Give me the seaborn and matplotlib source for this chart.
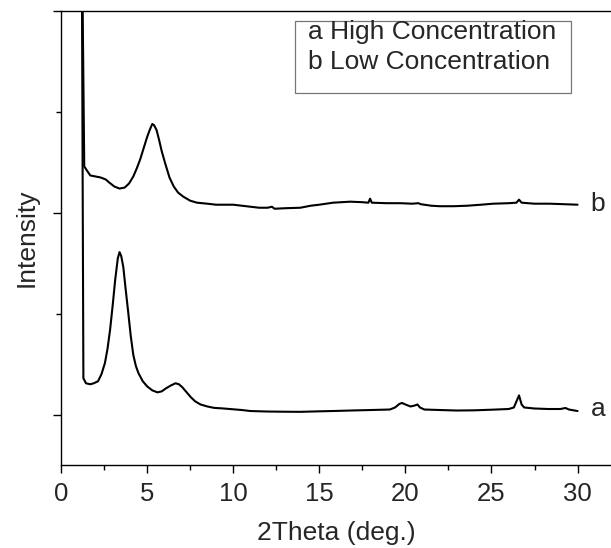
"""
XRD patterns of the two samples (high / low concentration).
Curve b is offset upward by the original figure, values are read off it.
"""

import pandas as pd
import matplotlib.pyplot as plt
import matplotlib.patches as mpatches
from matplotlib.ticker import MultipleLocator
import seaborn as sns

# 📥 Data (2Theta in deg., intensity in tick units)
theta_a = [1.20, 1.30, 1.45, 1.70, 1.90, 2.15, 2.35, 2.55, 2.70, 2.85,
           3.00, 3.15, 3.30, 3.40, 3.50, 3.62, 3.75, 3.90, 4.05, 4.20,
           4.35, 4.50, 4.75, 5.00, 5.30, 5.60, 5.85, 6.10, 6.40, 6.65,
           6.85, 7.05, 7.30, 7.55, 7.80, 8.10, 8.50, 8.90, 9.30, 9.80,
           10.5, 11.0, 12.0, 13.0, 13.9, 15.0, 16.0, 16.8, 18.0, 19.1,
           19.4, 19.65, 19.8, 20.0, 20.3, 20.55, 20.7, 20.85, 21.1, 22.0,
           23.0, 24.0, 25.0, 26.0, 26.3, 26.45, 26.6, 26.75, 26.9, 27.5,
           28.3, 29.0, 29.3, 29.5, 30.0]
intensity_a = [5.00, 0.36, 0.31, 0.30, 0.31, 0.33, 0.40, 0.51, 0.65, 0.84,
               1.08, 1.34, 1.55, 1.61, 1.57, 1.46, 1.25, 1.02, 0.78, 0.59,
               0.48, 0.41, 0.33, 0.28, 0.24, 0.22, 0.23, 0.26, 0.29, 0.31,
               0.30, 0.27, 0.22, 0.17, 0.13, 0.10, 0.08, 0.066, 0.062, 0.055,
               0.045, 0.035, 0.030, 0.028, 0.027, 0.032, 0.036, 0.040, 0.045, 0.050,
               0.070, 0.105, 0.115, 0.100, 0.080, 0.090, 0.100, 0.070, 0.050, 0.045,
               0.040, 0.042, 0.048, 0.055, 0.070, 0.130, 0.190, 0.100, 0.070, 0.060,
               0.055, 0.055, 0.065, 0.050, 0.035]

theta_b = [1.20, 1.35, 1.50, 1.70, 2.00, 2.30, 2.60, 2.80, 3.10, 3.40,
           3.70, 3.95, 4.20, 4.40, 4.60, 4.80, 5.00, 5.15, 5.30, 5.40,
           5.55, 5.70, 5.85, 6.05, 6.30, 6.55, 6.80, 7.10, 7.50, 7.90,
           8.50, 9.00, 9.50, 10.0, 10.5, 11.0, 11.5, 12.0, 12.25, 12.4,
           13.0, 13.9, 14.5, 15.0, 15.8, 16.8, 17.5, 17.85, 17.95, 18.05,
           18.9, 19.7, 20.4, 20.75, 20.9, 21.5, 22.0, 22.8, 23.6, 24.4,
           25.1, 26.0, 26.45, 26.6, 26.75, 27.5, 28.4, 29.2, 30.0]
intensity_b = [5.00, 2.46, 2.42, 2.37, 2.36, 2.35, 2.33, 2.30, 2.26, 2.24,
               2.25, 2.29, 2.36, 2.44, 2.53, 2.64, 2.75, 2.82, 2.88, 2.87,
               2.82, 2.72, 2.61, 2.49, 2.35, 2.26, 2.20, 2.16, 2.12, 2.10,
               2.09, 2.08, 2.08, 2.08, 2.07, 2.06, 2.05, 2.05, 2.06, 2.04,
               2.045, 2.05, 2.07, 2.08, 2.10, 2.11, 2.105, 2.10, 2.14, 2.10,
               2.095, 2.095, 2.09, 2.095, 2.085, 2.07, 2.065, 2.065, 2.07, 2.08,
               2.09, 2.095, 2.10, 2.13, 2.10, 2.09, 2.09, 2.085, 2.08]

legend_lines = ['a High Concentration', 'b Low Concentration']
curve_labels = ['a', 'b']

# 🔧 Style
sns.set_style('ticks')
plt.rcParams['font.family'] = ['Liberation Sans', 'DejaVu Sans']
plt.rcParams['axes.linewidth'] = 1.0


def main():
    df_a = pd.DataFrame({'theta': theta_a, 'intensity': intensity_a})
    df_b = pd.DataFrame({'theta': theta_b, 'intensity': intensity_b})

    fig = plt.figure(figsize=(6.11, 5.48), dpi=100)
    ax = fig.add_axes([61 / 611, 83 / 548, 551 / 611, 454 / 548])

    sns.lineplot(data=df_a, x='theta', y='intensity', ax=ax,
                 color='black', lw=1.5, estimator=None)
    sns.lineplot(data=df_b, x='theta', y='intensity', ax=ax,
                 color='black', lw=1.5, estimator=None)

    ax.set_xlim(0, 32)
    ax.set_ylim(-0.5, 4.0)
    ax.xaxis.set_major_locator(MultipleLocator(5))
    ax.xaxis.set_minor_locator(MultipleLocator(2.5))
    ax.yaxis.set_major_locator(MultipleLocator(2))
    ax.yaxis.set_minor_locator(MultipleLocator(1))
    ax.set_yticklabels([])
    ax.tick_params(axis='both', which='major', length=6, width=1.0,
                   labelsize=18.5, pad=6, color='black')
    ax.tick_params(axis='both', which='minor', length=3.5, width=1.0,
                   color='black')
    for side in ['top', 'right', 'left', 'bottom']:
        ax.spines[side].set_color('black')

    ax.set_xlabel('2Theta (deg.)', fontsize=19, labelpad=11)
    ax.set_ylabel('Intensity', fontsize=19, labelpad=4)

    # curve labels at the right end
    ax.text(30.75, 0.06, curve_labels[0], fontsize=19, va='center', ha='left')
    ax.text(30.75, 2.09, curve_labels[1], fontsize=19, va='center', ha='left')

    # legend box drawn by hand (no line handles in the original)
    box = mpatches.Rectangle((0.4247, 0.82), 0.5006, 0.159,
                             transform=ax.transAxes, facecolor='white',
                             edgecolor='#777777', lw=0.9, zorder=3)
    ax.add_patch(box)
    ax.text(0.4477, 0.938, legend_lines[0], transform=ax.transAxes,
            fontsize=19, va='baseline', ha='left', zorder=4)
    ax.text(0.4477, 0.873, legend_lines[1], transform=ax.transAxes,
            fontsize=19, va='baseline', ha='left', zorder=4)

    fig.savefig('out.png', dpi=100)
    plt.close(fig)


if __name__ == '__main__':
    main()
